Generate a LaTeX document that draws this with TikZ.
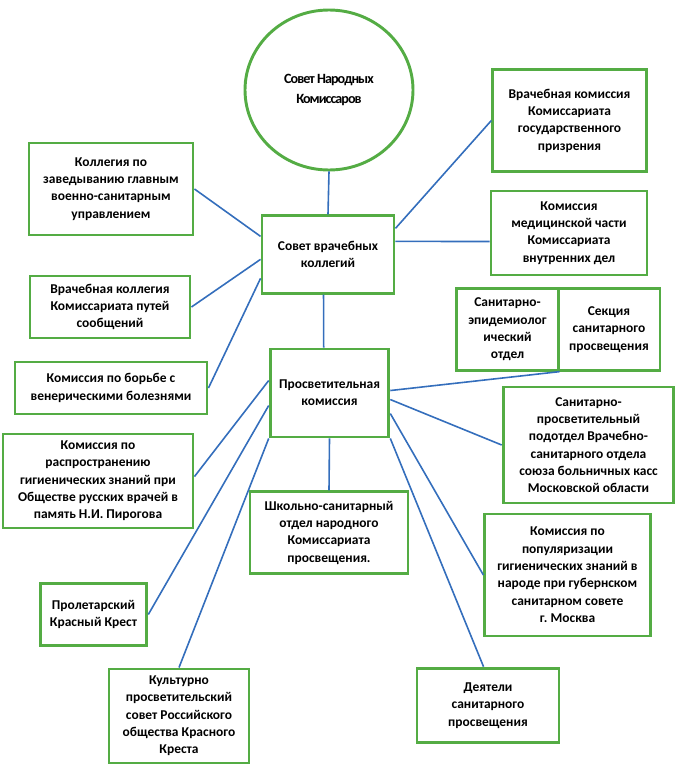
\documentclass[tikz,border=0pt]{standalone}
\usepackage{fontspec}
\setmainfont{Carlito}
\frenchspacing
\usetikzlibrary{shapes.geometric,calc}
\definecolor{boxgreen}{RGB}{84,172,68}
\definecolor{linkblue}{RGB}{52,110,188}
\begin{document}
\begin{tikzpicture}[x=0.75pt,y=-0.75pt,
  box/.style={draw=boxgreen,line width=2.2pt,rectangle,inner sep=2pt,align=center,
    font=\fontsize{10.1}{13}\selectfont\bfseries\frenchspacing},
  link/.style={draw=linkblue,line width=1.2pt}]
\useasboundingbox (0,0) rectangle (678,771);
\node[draw=boxgreen,line width=2.2pt,ellipse,minimum width=126pt,minimum height=120pt,align=center,
  font=\fontsize{10.6}{14.3}\selectfont\bfseries\addfontfeatures{LetterSpace=-7}] (circ) at (329,90) {Совет Народных\\Комиссаров};
\node[box,minimum width=123pt,minimum height=69pt] (k1) at (111,189) {Коллегия по\\заведыванию главным\\военно-санитарным\\управлением};
\node[box,minimum width=99pt,minimum height=58pt] (svk) at (328,254.5) {Совет врачебных\\коллегий};
\node[box,minimum width=115pt,minimum height=76pt] (r1) at (569.5,120.5) {Врачебная комиссия\\Комиссариата\\государственного\\призрения};
\node[box,minimum width=117pt,minimum height=63pt] (r2) at (569,233) {Комиссия\\медицинской части\\Комиссариата\\внутренних дел};
\node[box,minimum width=120pt,minimum height=46.5pt] (l2) at (110,307) {Врачебная коллегия\\Комиссариата путей\\сообщений};
\node[box,minimum width=144pt,minimum height=39pt] (l3) at (111,388) {Комиссия по борьбе с\\венерическими болезнями};
\node[box,minimum width=89pt,minimum height=66pt] (pk) at (329.5,393) {Просветительная\\комиссия};
\node[box,minimum width=142.5pt,minimum height=70.5pt] (l4) at (98,481) {Комиссия по\\распространению\\гигиенических знаний при\\Обществе русских врачей в\\память Н.И. Пирогова};
\node[box,minimum width=76pt,minimum height=61pt] (e1) at (507.5,329.5) {Санитарно-\\эпидемиолог\\ический\\отдел};
\node[box,minimum width=76.5pt,minimum height=61pt] (e2) at (609,329.5) {Секция\\санитарного\\просвещения};
\node[box,minimum width=128pt,minimum height=87pt] (r4) at (588.5,445) {Санитарно-\\просветительный\\подотдел Врачебно-\\санитарного отдела\\союза больничных касс\\Московской области};
\node[box,minimum width=118.5pt,minimum height=61pt] (ss) at (329,532.5) {Школьно-санитарный\\отдел народного\\Комиссариата\\просвещения.};
\node[box,minimum width=124pt,minimum height=91.5pt] (r5) at (567.5,575) {Комиссия по\\популяризации\\гигиенических знаний в\\народе при губернском\\санитарном совете\\г. Москва};
\node[box,minimum width=80pt,minimum height=47pt] (l5) at (93.5,614.5) {Пролетарский\\Красный Крест};
\node[box,minimum width=105pt,minimum height=70.5pt] (l6) at (179,716) {Культурно\\просветительский\\совет Российского\\общества Красного\\Креста};
\node[box,minimum width=106.5pt,minimum height=56pt] (ds) at (488,705.5) {Деятели\\санитарного\\просвещения};

\draw[link] (circ.south) -- (svk.north);
\draw[link] (k1.east) -- ($(svk.north west)+(0,22)$);
\draw[link] ($(svk.north east)+(0,14)$) -- (r1.west);
\draw[link] ($(svk.north east)+(0,27)$) -- ($(r2.north west)+(0,52)$);
\draw[link] (l2.east) -- ($(svk.north west)+(0,45)$);
\draw[link] (l3.east) -- ($(svk.north west)+(0,64)$);
\draw[link] ($(svk.south west)+(63,0)$) -- ($(pk.north west)+(55,0)$);
\draw[link] ($(l4.north east)+(0,44)$) -- ($(pk.north west)+(0,33)$);
\draw[link] (l5.east) -- ($(pk.north west)+(0,58)$);
\draw[link] (l6.north) -- (pk.south west);
\draw[link] (pk.south) -- (ss.north);
\draw[link] ($(pk.north east)+(0,43)$) -- (e1.south east);
\draw[link] ($(pk.north east)+(0,52)$) -- (r4.west);
\draw[link] ($(pk.north east)+(0,66)$) -- (r5.west);
\draw[link] (pk.south east) -- ($(ds.north west)+(68,0)$);
\end{tikzpicture}
\end{document}
